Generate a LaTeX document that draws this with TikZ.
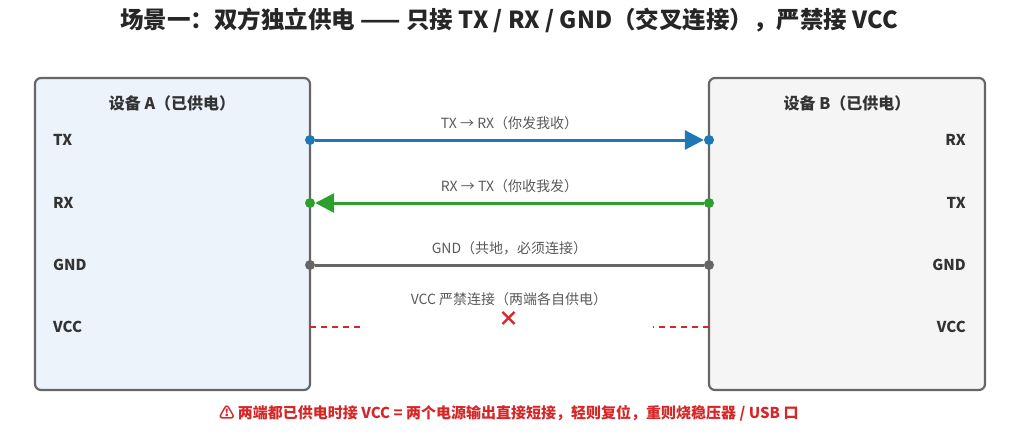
\documentclass[tikz,border=0pt]{standalone}
\usepackage{fontspec}
\setmainfont{Noto Sans CJK SC}
\usetikzlibrary{arrows.meta}
\definecolor{boxA}{HTML}{EDF3FB}
\definecolor{boxB}{HTML}{F5F5F5}
\definecolor{edge}{HTML}{666666}
\definecolor{txblue}{HTML}{1F77B4}
\definecolor{rxgreen}{HTML}{2CA02C}
\definecolor{warnred}{HTML}{D62728}
\begin{document}
\begin{tikzpicture}[x=1pt, y=-1pt,
  dev/.style={draw=edge, line width=2.2pt, rounded corners=6pt},
  pin/.style={font=\fontsize{15}{17}\selectfont\bfseries, text=black!80},
  wire/.style={line width=3pt},
  lbl/.style={font=\fontsize{14}{16}\selectfont, text=black!65},
  dot/.style={circle, fill, inner sep=0pt, minimum size=10pt}]
\useasboundingbox (0,0) rectangle (1010,440);

% Title
\node[font=\fontsize{23.5}{26}\selectfont\bfseries, text=black!85] (title) at (509,20) {场景一：双方独立供电 —— 只接 TX / RX / GND（交叉连接），严禁接 VCC};

% Devices
\filldraw[dev, fill=boxA] (35,78) rectangle (310,390);
\filldraw[dev, fill=boxB] (709,78) rectangle (985,390);
\node[pin, font=\fontsize{16}{18}\selectfont\bfseries] (ta) at (172,103) {设备 A（已供电）};
\node[pin, font=\fontsize{16}{18}\selectfont\bfseries] (tb) at (847,103) {设备 B（已供电）};

% Pins
\foreach \n/\t/\y in {atx/TX/140, arx/RX/203, agnd/GND/265, avcc/VCC/327}
  \node[pin, anchor=west, inner sep=0pt] (\n) at (53,\y) {\t};
\foreach \n/\t/\y in {brx/RX/140, btx/TX/203, bgnd/GND/265, bvcc/VCC/327}
  \node[pin, anchor=east, inner sep=0pt] (\n) at (966,\y) {\t};

% Ports
\foreach \n/\c/\y in {pa1/txblue/140, pa2/rxgreen/203, pa3/edge/265}
  \node[dot, fill=\c] (\n) at (310,\y) {};
\foreach \n/\c/\y in {pb1/txblue/140, pb2/rxgreen/203, pb3/edge/265}
  \node[dot, fill=\c] (\n) at (709,\y) {};

% Wires
\draw[wire, txblue, -{Triangle[length=19pt, width=19pt]}] (pa1) -- (pb1)
  node[midway, above=5pt, lbl] {TX → RX（你发我收）};
\draw[wire, rxgreen, -{Triangle[length=19pt, width=19pt]}] (pb2) -- (pa2)
  node[midway, above=5pt, lbl] {RX → TX（你收我发）};
\draw[wire, edge] (pa3) -- (pb3)
  node[midway, above=5pt, lbl] {GND（共地，必须连接）};

% VCC forbidden
\coordinate (va) at (310,327);
\coordinate (vb) at (709,327);
\draw[warnred, line width=2.6pt, dash pattern=on 6pt off 5pt] (va) -- ++(52,0);
\draw[warnred, line width=2.6pt, dash pattern=on 6pt off 5pt] (vb) -- ++(-56,0);
\node[lbl] (vlbl) at (509,299) {VCC 严禁连接（两端各自供电）};
\node[text=warnred, font=\fontsize{21}{21}\selectfont\bfseries] (cross) at (509,319) {×};

% Warning
\node[text=warnred, font=\fontsize{15}{17}\selectfont\bfseries] (warn) at (509,413) {⚠ 两端都已供电时接 VCC = 两个电源输出直接短接，轻则复位，重则烧稳压器 / USB 口};
\end{tikzpicture}
\end{document}
